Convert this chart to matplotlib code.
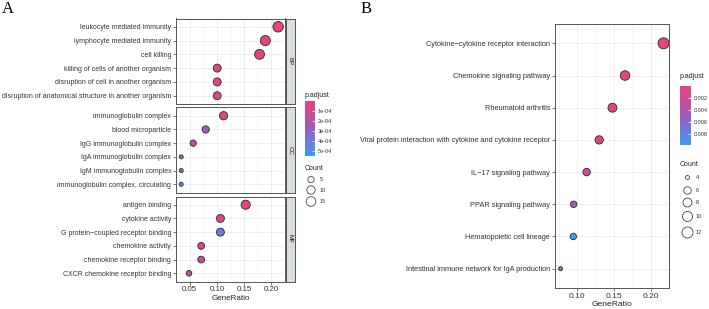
import numpy as np
import matplotlib.pyplot as plt
from matplotlib.colors import LinearSegmentedColormap, Normalize
from matplotlib.cm import ScalarMappable

plt.rcParams['font.family'] = ['Liberation Sans', 'DejaVu Sans']

# ---- Panel A: GO enrichment (BP / CC / MF) ----
bp_terms = ['leukocyte mediated immunity', 'lymphocyte mediated immunity', 'cell killing',
            'killing of cells of another organism', 'disruption of cell in another organism',
            'disruption of anatomical structure in another organism']
bp_ratio = [0.2124, 0.1889, 0.1783, 0.1006, 0.1006, 0.1006]
bp_count = [19, 17, 16, 9, 9, 9]
bp_padj = [0.02e-4, 0.10e-4, 0.15e-4, 0.40e-4, 0.40e-4, 0.45e-4]

cc_terms = ['immunoglobulin complex', 'blood microparticle', 'IgG immunoglobulin complex',
            'IgA immunoglobulin complex', 'IgM immunoglobulin complex',
            'immunoglobulin complex, circulating']
cc_ratio = [0.1123, 0.0795, 0.0565, 0.0346, 0.0346, 0.0346]
cc_count = [10, 7, 5, 3, 3, 3]
cc_padj = [0.30e-4, 2.9e-4, 1.0e-4, 3.5e-4, 3.5e-4, 5.5e-4]

mf_terms = ['antigen binding', 'cytokine activity', 'G protein\u2212coupled receptor binding',
            'chemokine activity', 'chemokine receptor binding', 'CXCR chemokine receptor binding']
mf_ratio = [0.1529, 0.1065, 0.1065, 0.0712, 0.0712, 0.0488]
mf_count = [13, 9, 9, 6, 6, 4]
mf_padj = [0.10e-4, 0.60e-4, 4.0e-4, 0.80e-4, 1.2e-4, 1.5e-4]

a_groups = ['BP', 'CC', 'MF']
a_cbar_ticks = [1e-4, 2e-4, 3e-4, 4e-4, 5e-4]
a_cbar_labels = ['1e-04', '2e-04', '3e-04', '4e-04', '5e-04']
a_count_breaks = [5, 10, 15]

# ---- Panel B: KEGG enrichment ----
kegg_terms = ['Cytokine\u2212cytokine receptor interaction', 'Chemokine signaling pathway',
              'Rheumatoid arthritis', 'Viral protein interaction with cytokine and cytokine receptor',
              'IL\u221217 signaling pathway', 'PPAR signaling pathway',
              'Hematopoietic cell lineage', 'Intestinal immune network for IgA production']
kegg_ratio = [0.2176, 0.1651, 0.1480, 0.1299, 0.1128, 0.0951, 0.0946, 0.0773]
kegg_count = [12, 9, 8, 7, 6, 5, 5, 4]
kegg_padj = [0.0001, 0.0004, 0.0006, 0.0005, 0.0022, 0.0045, 0.0099, 0.0072]
b_cbar_ticks = [0.002, 0.004, 0.006, 0.008]
b_cbar_labels = ['0.002', '0.004', '0.006', '0.008']
b_count_breaks = [4, 6, 8, 10, 12]

W, H = 709, 309
cmap = LinearSegmentedColormap.from_list('padj', ['#E8437E', '#9B5CBA', '#3D9BF0'])
TXT = '#333333'


def rect(x0, y0, x1, y1):
    return [x0 / W, 1 - y1 / H, (x1 - x0) / W, (y1 - y0) / H]


def size_fn(cmin, cmax, dmin, dmax):
    # area-proportional size scale, diameter in pixels -> points^2
    def f(c):
        c = np.asarray(c, dtype=float)
        d = dmin + (dmax - dmin) * np.sqrt((c - cmin) / (cmax - cmin))
        return (d * 0.72) ** 2
    return f


def dot_panel(ax, terms, ratio, count, padj, norm, sfun, xlim, xticks, show_x, fs):
    y = np.arange(len(terms))
    ax.grid(True, which='major', color='#EBEBEB', lw=0.6, zorder=0)
    ax.grid(True, which='minor', axis='x', color='#F4F4F4', lw=0.4, zorder=0)
    ax.set_axisbelow(True)
    ax.scatter(ratio, y, s=sfun(count), c=padj, cmap=cmap, norm=norm,
               edgecolors='#2a2a2a', linewidths=0.6, zorder=3)
    ax.set_xlim(xlim)
    ax.set_ylim(len(terms) - 0.4, -0.6)
    ax.set_yticks(y)
    ax.set_yticklabels(terms, fontsize=fs, color=TXT)
    ax.set_xticks(xticks)
    ax.set_xticks([t + 0.025 for t in xticks] + [xticks[0] - 0.025], minor=True)
    ax.tick_params(axis='both', which='major', length=2, width=0.5, color='#444444', pad=1.5)
    ax.tick_params(axis='x', which='minor', length=0)
    if show_x:
        ax.set_xticklabels(['%.2f' % t for t in xticks], fontsize=fs + 0.7, color=TXT)
        ax.set_xlabel('GeneRatio', fontsize=fs + 0.8, color='#222222', labelpad=1)
    else:
        ax.tick_params(axis='x', which='major', length=0, labelbottom=False)
    for sp in ax.spines.values():
        sp.set_color('#555555')
        sp.set_linewidth(0.7)


def colorbar(fig, box, norm, ticks, labels):
    cax = fig.add_axes(box)
    cb = fig.colorbar(ScalarMappable(norm=norm, cmap=cmap), cax=cax, ticks=ticks)
    cax.invert_yaxis()
    cb.outline.set_visible(False)
    cb.set_ticklabels(labels)
    cax.tick_params(length=2, width=0.5, color='white', direction='in', labelsize=4, pad=2,
                    labelcolor=TXT)


fig = plt.figure(figsize=(W / 100, H / 100), dpi=100)
over = fig.add_axes([0, 0, 1, 1])
over.set_xlim(0, W)
over.set_ylim(H, 0)
over.axis('off')

# ---------- Panel A ----------
norm_a = Normalize(vmin=0.0, vmax=5.5e-4)
all_counts_a = bp_count + cc_count + mf_count
sfun_a = size_fn(min(all_counts_a), max(all_counts_a), 4.0, 10.5)
a_terms = [bp_terms, cc_terms, mf_terms]
a_ratio = [bp_ratio, cc_ratio, mf_ratio]
a_count = [bp_count, cc_count, mf_count]
a_padj = [bp_padj, cc_padj, mf_padj]
a_rows = [(18.5, 104), (107.5, 192.5), (196.5, 281.5)]
for i, (y0, y1) in enumerate(a_rows):
    ax = fig.add_axes(rect(176, y0, 285, y1))
    dot_panel(ax, a_terms[i], a_ratio[i], a_count[i], a_padj[i], norm_a, sfun_a,
              (0.0271, 0.2194), [0.05, 0.10, 0.15, 0.20], i == 2, 5)
    sax = fig.add_axes(rect(285.5, y0, 295, y1))
    sax.set_facecolor('#D7DDDB')
    sax.set_xticks([])
    sax.set_yticks([])
    for sp in sax.spines.values():
        sp.set_color('#555555')
        sp.set_linewidth(0.7)
    sax.text(0.5, 0.5, a_groups[i], rotation=-90, ha='center', va='center',
             fontsize=4.5, color='#1a1a1a', transform=sax.transAxes)

over.text(305, 95.5, 'p.adjust', fontsize=5, color='#222222', va='center', ha='left')
colorbar(fig, rect(305, 101, 315, 156), norm_a, a_cbar_ticks, a_cbar_labels)
over.text(305, 168.5, 'Count', fontsize=5, color='#222222', va='center', ha='left')
for c, yy in zip(a_count_breaks, [179.5, 190, 201.5]):
    over.scatter([311], [yy], s=sfun_a(c), facecolors='none', edgecolors='#444444', linewidths=0.6)
    over.text(320, yy, str(c), fontsize=4, color=TXT, va='center', ha='left')

over.text(7.5, 9, 'A', fontsize=12, family='Liberation Serif', ha='center', va='center')

# ---------- Panel B ----------
norm_b = Normalize(vmin=0.0, vmax=0.0099)
sfun_b = size_fn(min(kegg_count), max(kegg_count), 4.0, 11.0)
axb = fig.add_axes(rect(555, 24, 669, 288))
dot_panel(axb, kegg_terms, kegg_ratio, kegg_count, kegg_padj, norm_b, sfun_b,
          (0.0697, 0.2244), [0.10, 0.15, 0.20], True, 5.3)

over.text(680, 77, 'p.adjust', fontsize=5, color='#222222', va='center', ha='left')
colorbar(fig, rect(680, 86.5, 691, 145), norm_b, b_cbar_ticks, b_cbar_labels)
over.text(680, 165, 'Count', fontsize=5, color='#222222', va='center', ha='left')
for c, yy in zip(b_count_breaks, [177.5, 190.5, 202.5, 216.5, 232.5]):
    over.scatter([687.5], [yy], s=sfun_b(c), facecolors='none', edgecolors='#444444', linewidths=0.6)
    over.text(696, yy, str(c), fontsize=4, color=TXT, va='center', ha='left')

over.text(366, 9, 'B', fontsize=12, family='Liberation Serif', ha='center', va='center')

fig.savefig('out.png', dpi=100, facecolor='white')
